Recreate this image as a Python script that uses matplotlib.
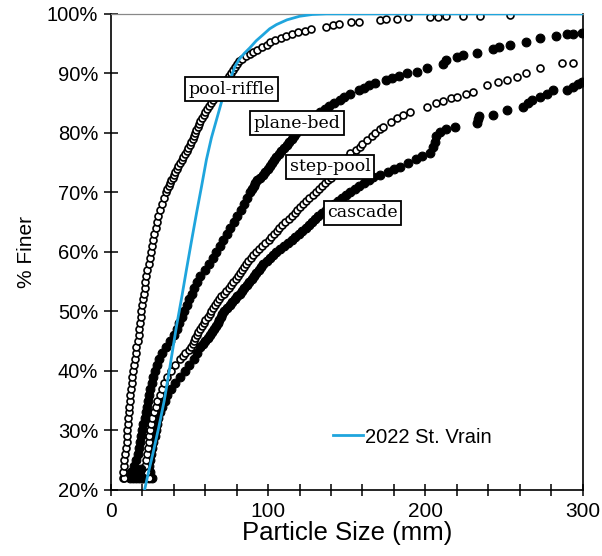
import matplotlib
matplotlib.use("Agg")
import matplotlib.pyplot as plt
from matplotlib.ticker import MultipleLocator, FuncFormatter

# values (particle size mm, % finer)
vrain_size = [21.5, 24.0, 26.7, 30.5, 34.0, 37.5, 41.7, 45.0, 48.1, 51.3, 54.5, 57.7, 60.8,
              64.0, 67.2, 70.4, 74.5, 76.7, 79.0, 82.0, 85.0, 88.4, 92.5, 96.8, 101.0,
              105.3, 112.0, 120.0, 128.0, 137.0, 300.0]
vrain_pct = [20.0, 23.0, 26.0, 30.5, 35.0, 40.5, 47.4, 52.2, 57.0, 61.8, 66.5, 71.0, 75.5,
             79.2, 82.2, 85.2, 87.9, 89.6, 91.2, 92.5, 93.4, 94.3, 95.5, 96.5, 97.5,
             98.2, 99.0, 99.6, 99.9, 100.0, 100.0]

pool_riffle_size = [7.6, 8.6, 8.0, 8.2, 8.6, 9.0, 9.5, 10.0, 10.3, 10.5, 10.8, 11.0, 11.4,
                    11.7, 12.0, 12.3, 12.8, 13.3, 13.8, 14.3, 14.8, 15.3, 15.8, 16.2, 17.0,
                    17.7, 18.1, 18.5, 18.9, 19.3, 19.8, 20.3, 20.9, 21.5, 22.0, 22.6, 23.3,
                    24.0, 24.7, 25.5, 26.2, 27.0, 27.7, 28.5, 29.3, 30.2, 31.3, 32.5, 33.7,
                    35.0, 35.9, 36.7, 37.6, 38.5, 39.4, 40.2, 41.1, 42.0, 43.0, 44.0, 45.0,
                    46.0, 47.1, 48.2, 49.4, 50.5, 51.2, 52.0, 52.8, 53.5, 54.4, 55.2, 56.1,
                    57.0, 58.0, 59.0, 60.0, 61.0, 62.2, 63.5, 64.7, 66.0, 67.5, 69.0, 70.5,
                    72.0, 73.0, 74.0, 75.2, 76.5, 77.8, 79.0, 80.2, 81.5, 83.5, 86.0, 88.5,
                    90.5, 93.0, 96.0, 99.0, 101.5, 104.5, 108.0, 111.5, 115.0, 119.0, 123.5,
                    127.0, 137.0, 141.0, 145.0, 153.0, 158.0, 171.0, 175.0, 182.0, 189.0,
                    203.0, 208.0, 213.0, 224.0, 235.0, 254.0]
pool_riffle_pct = [22.0, 22.0, 23.0, 24.0, 25.0, 26.0, 27.0, 28.0, 29.0, 30.0, 31.0, 32.0,
                   33.0, 34.0, 35.0, 36.0, 37.0, 38.0, 39.0, 40.0, 41.0, 42.0, 43.0, 44.0,
                   45.0, 46.0, 47.0, 48.0, 49.0, 50.0, 51.0, 52.0, 53.0, 54.0, 55.0, 56.0,
                   57.0, 58.0, 59.0, 60.0, 61.0, 62.0, 63.0, 64.0, 65.0, 66.0, 67.0, 68.0,
                   69.0, 70.0, 70.5, 71.0, 71.5, 72.0, 72.5, 73.0, 73.5, 74.0, 74.5, 75.0,
                   75.5, 76.0, 76.5, 77.0, 77.5, 78.0, 78.5, 79.0, 79.5, 80.0, 80.5, 81.0,
                   81.5, 82.0, 82.5, 83.0, 83.5, 84.0, 84.5, 85.0, 85.5, 86.0, 86.5, 87.0,
                   87.5, 88.0, 88.5, 89.0, 89.5, 90.0, 90.5, 91.0, 91.5, 92.0, 92.5, 93.0,
                   93.3, 93.6, 94.0, 94.4, 94.8, 95.2, 95.6, 96.0, 96.3, 96.6, 96.9, 97.2,
                   97.4, 97.8, 98.2, 98.3, 98.6, 98.7, 98.9, 99.1, 99.2, 99.4, 99.5, 99.5,
                   99.6, 99.6, 99.7, 99.8]

plane_bed_size = [12.0, 14.0, 16.0, 18.0, 20.0, 13.0, 15.0, 17.0, 19.0, 15.0, 16.0, 17.0,
                  17.8, 18.5, 19.2, 20.0, 20.8, 21.5, 22.3, 23.0, 23.8, 24.5, 25.2, 26.0,
                  27.0, 28.0, 29.2, 30.5, 32.5, 35.0, 37.5, 40.0, 42.0, 43.5, 45.0, 46.5,
                  48.3, 50.0, 51.5, 53.0, 55.0, 57.0, 59.8, 62.5, 64.8, 67.0, 69.2, 71.5,
                  73.8, 76.0, 78.3, 80.5, 82.8, 85.0, 86.8, 88.5, 89.6, 90.8, 91.9, 93.0,
                  94.7, 96.5, 98.2, 100.0, 101.2, 102.5, 103.8, 105.0, 106.8, 108.5, 110.3,
                  112.0, 113.5, 115.0, 116.5, 118.0, 119.8, 121.5, 123.3, 125.0, 127.8,
                  130.5, 133.2, 136.0, 139.0, 142.0, 145.6, 148.5, 152.0, 158.0, 161.0,
                  164.0, 168.0, 175.0, 179.0, 183.0, 188.0, 194.5, 201.0, 211.0, 213.0,
                  220.0, 224.0, 233.0, 243.0, 247.0, 254.0, 264.0, 273.0, 283.0, 290.0,
                  294.0, 299.5]
plane_bed_pct = [22.0, 22.0, 22.0, 22.0, 22.0, 23.0, 23.0, 23.0, 23.5, 24.0, 25.0, 26.0,
                 27.0, 28.0, 29.0, 30.0, 31.0, 32.0, 33.0, 34.0, 35.0, 36.0, 37.0, 38.0,
                 39.0, 40.0, 41.0, 42.0, 43.0, 44.0, 45.0, 46.0, 47.0, 48.0, 49.0, 50.0,
                 51.0, 52.0, 53.0, 54.0, 55.0, 56.0, 57.0, 58.0, 59.0, 60.0, 61.0, 62.0,
                 63.0, 64.0, 65.0, 66.0, 67.0, 68.0, 69.0, 70.0, 70.5, 71.0, 71.5, 72.0,
                 72.5, 73.0, 73.5, 74.0, 74.5, 75.0, 75.5, 76.0, 76.5, 77.0, 77.5, 78.0,
                 78.5, 79.0, 79.5, 80.0, 80.5, 81.0, 81.5, 82.0, 82.5, 83.0, 83.5, 84.0,
                 84.5, 85.0, 85.5, 86.0, 86.5, 87.2, 87.6, 88.0, 88.4, 88.9, 89.3, 89.6,
                 90.0, 90.3, 90.9, 91.6, 92.3, 92.8, 93.1, 93.5, 94.1, 94.5, 94.8, 95.3,
                 95.9, 96.3, 96.6, 96.6, 96.8]

step_pool_size = [20.0, 22.0, 24.0, 21.0, 23.0, 22.0, 22.5, 23.0, 23.5, 24.0, 24.5, 25.0,
                  25.8, 26.5, 27.5, 28.5, 29.7, 31.0, 32.5, 34.0, 36.0, 38.0, 41.0, 44.0,
                  46.0, 47.5, 49.5, 51.0, 52.0, 53.0, 53.8, 54.5, 55.6, 56.8, 57.9, 59.0,
                  60.2, 61.5, 62.8, 64.0, 65.1, 66.2, 67.4, 68.5, 70.1, 71.8, 73.4, 75.0,
                  76.5, 78.0, 79.5, 81.0, 82.3, 83.5, 84.8, 86.0, 87.5, 89.0, 90.5, 92.0,
                  94.0, 96.2, 98.3, 100.5, 102.0, 103.8, 105.4, 107.0, 109.0, 111.0, 113.0,
                  115.0, 116.8, 118.5, 120.3, 122.0, 124.0, 126.3, 128.4, 130.5, 132.4,
                  134.2, 136.1, 138.0, 139.8, 141.5, 143.3, 145.0, 146.5, 148.0, 149.5,
                  151.0, 152.0, 156.0, 158.5, 160.0, 163.0, 166.0, 168.0, 171.0, 173.0,
                  178.0, 182.0, 186.0, 190.0, 201.0, 207.0, 211.0, 216.0, 220.0, 226.0,
                  230.0, 239.0, 246.0, 252.0, 258.0, 264.0, 273.0, 287.0, 294.0]
step_pool_pct = [22.0, 22.0, 22.0, 23.0, 23.0, 24.0, 25.0, 26.0, 27.0, 28.0, 29.0, 30.0,
                 31.0, 32.0, 33.0, 34.0, 35.0, 36.0, 37.0, 38.0, 39.0, 40.0, 41.0, 42.0,
                 42.5, 43.0, 43.5, 44.0, 44.5, 45.0, 45.5, 46.0, 46.5, 47.0, 47.5, 48.0,
                 48.5, 49.0, 49.5, 50.0, 50.5, 51.0, 51.5, 52.0, 52.5, 53.0, 53.5, 54.0,
                 54.5, 55.0, 55.5, 56.0, 56.5, 57.0, 57.5, 58.0, 58.5, 59.0, 59.5, 60.0,
                 60.5, 61.0, 61.5, 62.0, 62.5, 63.0, 63.5, 64.0, 64.5, 65.0, 65.5, 66.0,
                 66.5, 67.0, 67.5, 68.0, 68.5, 69.0, 69.5, 70.0, 70.5, 71.0, 71.5, 72.0,
                 72.5, 73.0, 73.5, 74.0, 74.5, 75.0, 75.5, 76.0, 76.6, 77.1, 77.6, 78.2,
                 78.8, 79.4, 80.0, 80.6, 81.0, 81.8, 82.5, 83.0, 83.5, 84.4, 85.1, 85.4,
                 85.9, 86.1, 86.5, 86.9, 88.0, 88.5, 88.9, 89.4, 90.1, 90.9, 91.8, 91.8]

cascade_size = [20.0, 22.0, 24.0, 26.0, 22.0, 25.0, 24.0, 24.8, 25.5, 26.2, 27.0, 27.8,
                28.5, 29.2, 30.0, 31.2, 32.5, 34.2, 36.0, 38.5, 41.0, 44.0, 47.0, 50.0,
                53.0, 55.0, 57.0, 58.5, 60.0, 61.5, 63.0, 64.3, 65.5, 66.8, 68.0, 69.0,
                70.0, 71.0, 72.0, 73.8, 75.5, 77.3, 79.0, 80.5, 82.0, 83.5, 85.0, 86.5,
                88.0, 89.5, 91.0, 92.5, 94.0, 95.5, 97.0, 99.0, 101.0, 103.0, 105.0, 107.5,
                110.0, 112.5, 115.0, 117.2, 119.5, 121.8, 124.0, 126.0, 128.0, 130.0, 132.0,
                134.5, 137.0, 139.5, 142.0, 144.5, 147.0, 149.5, 152.0, 155.0, 158.0, 161.0,
                164.0, 167.0, 171.0, 176.0, 180.0, 184.0, 189.0, 194.0, 198.0, 203.0, 205.0,
                206.0, 207.0, 209.0, 213.0, 219.0, 233.0, 233.5, 234.0, 243.0, 252.0, 262.0,
                265.0, 268.0, 273.0, 277.0, 281.0, 290.0, 294.0, 297.0, 299.5]
cascade_pct = [22.0, 22.0, 22.0, 22.0, 23.0, 23.0, 24.0, 25.0, 26.0, 27.0, 28.0, 29.0,
               30.0, 31.0, 32.0, 33.0, 34.0, 35.0, 36.0, 37.0, 38.0, 39.0, 40.0, 41.0,
               42.0, 43.0, 44.0, 44.5, 45.0, 45.5, 46.0, 46.5, 47.0, 47.5, 48.0, 48.5,
               49.0, 49.5, 50.0, 50.5, 51.0, 51.5, 52.0, 52.5, 53.0, 53.5, 54.0, 54.5,
               55.0, 55.5, 56.0, 56.5, 57.0, 57.5, 58.0, 58.5, 59.0, 59.5, 60.0, 60.5,
               61.0, 61.5, 62.0, 62.5, 63.0, 63.5, 64.0, 64.5, 65.0, 65.5, 66.0, 66.5,
               67.0, 67.5, 68.0, 68.5, 69.0, 69.5, 70.0, 70.5, 71.0, 71.5, 72.0, 72.6,
               73.0, 73.5, 74.0, 74.3, 75.0, 75.6, 76.1, 76.6, 77.6, 78.5, 79.4, 80.2,
               80.6, 81.0, 81.7, 82.3, 82.9, 83.0, 83.9, 84.4, 85.0, 85.5, 86.1, 86.6,
               87.2, 87.2, 87.7, 88.2, 88.6]

# label text and where the boxes sit (size, % finer)
bed_labels = ["pool-riffle", "plane-bed", "step-pool", "cascade"]
label_size = [76.9, 118.2, 139.5, 159.9]
label_pct = [87.3, 81.6, 74.3, 66.6]

plt.rcParams["font.family"] = ["Liberation Sans", "DejaVu Sans"]

fig = plt.figure(figsize=(6.02, 5.56), dpi=100)
ax = fig.add_axes([0.184, 0.119, 0.784, 0.856])

open_style = dict(ls="none", marker="o", ms=5.0, mfc="white", mec="black", mew=1.2)
fill_style = dict(ls="none", marker="o", ms=6.3, mfc="black", mec="black", mew=0.8)

ax.plot(cascade_size, cascade_pct, **fill_style)
ax.plot(step_pool_size, step_pool_pct, **open_style)
ax.plot(plane_bed_size, plane_bed_pct, **fill_style)
ax.plot(pool_riffle_size, pool_riffle_pct, **open_style)
ax.plot(vrain_size, vrain_pct, color="#1fa5dd", lw=2.0, label="2022 St. Vrain", zorder=5)

for txt, sx, sy in zip(bed_labels, label_size, label_pct):
    ax.text(sx, sy, txt, ha="center", va="center", fontsize=12.5,
            family="DejaVu Serif", zorder=6,
            bbox=dict(boxstyle="square,pad=0.2", fc="white", ec="black", lw=1.3))

ax.set_xlim(0, 300)
ax.set_ylim(20, 100)
ax.xaxis.set_major_locator(MultipleLocator(100))
ax.xaxis.set_minor_locator(MultipleLocator(20))
ax.yaxis.set_major_locator(MultipleLocator(10))
ax.yaxis.set_major_formatter(FuncFormatter(lambda v, p: f"{v:.0f}%"))
ax.tick_params(axis="both", which="both", direction="inout", width=1.1, colors="black")
ax.tick_params(axis="x", which="both", length=9, labelsize=15, pad=4)
ax.tick_params(axis="y", which="major", length=10, labelsize=14.5, pad=4)

for side in ["left", "bottom", "right"]:
    ax.spines[side].set_linewidth(1.2)
ax.spines["top"].set_color("#888888")
ax.spines["top"].set_linewidth(0.9)

ax.set_xlabel("Particle Size (mm)", fontsize=18.5, labelpad=0)
ax.set_ylabel("% Finer", fontsize=15, labelpad=8)

ax.legend(loc="center left", bbox_to_anchor=(0.45, 0.111), frameon=False,
          fontsize=14.5, handlelength=1.5, handletextpad=0.1, borderpad=0)

fig.savefig("out.png", dpi=100)
